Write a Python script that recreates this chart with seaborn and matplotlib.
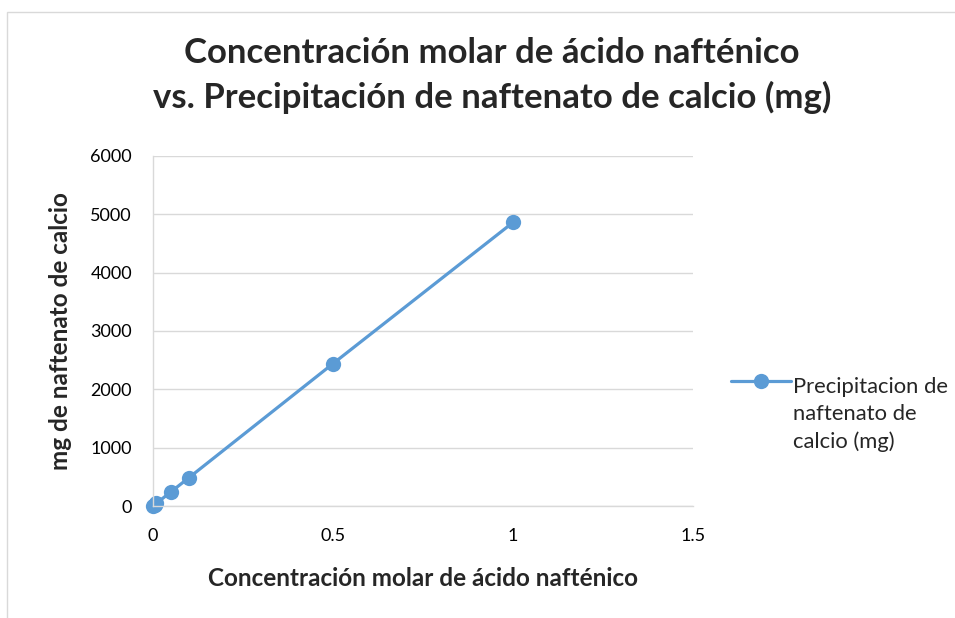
import numpy as np
import pandas as pd
import matplotlib.pyplot as plt
import seaborn as sns
from matplotlib.patches import Rectangle

# data
concentracion = [0.001, 0.005, 0.01, 0.05, 0.1, 0.5, 1.0]
precipitacion_mg = [4.9, 24.3, 48.6, 243, 486, 2440, 4860]
serie = "Precipitacion de\nnaftenato de\ncalcio (mg)"
x_ticks = [0, 0.5, 1, 1.5]
x_tick_labels = ["0", "0.5", "1", "1.5"]
y_ticks = [0, 1000, 2000, 3000, 4000, 5000, 6000]

df = pd.DataFrame({"x": concentracion, "y": precipitacion_mg, "serie": serie})

sns.set_style("white")
plt.rcParams["font.family"] = ["Lato", "DejaVu Sans"]

color = "#5B9BD5"
fig = plt.figure(figsize=(9.55, 6.18), dpi=100)
ax = fig.add_axes([0.160, 0.181, 0.566, 0.567])

sns.lineplot(data=df, x="x", y="y", hue="serie", palette=[color], marker="o",
             markersize=11, markeredgewidth=0, linewidth=2.3, ax=ax)
for ln in ax.lines:
    ln.set_clip_on(False)

ax.set_xlim(0, 1.5)
ax.set_ylim(0, 6000)
ax.set_xticks(x_ticks)
ax.set_xticklabels(x_tick_labels)
ax.set_yticks(y_ticks)
ax.tick_params(axis="both", labelsize=13, length=0, colors="black")
ax.tick_params(axis="y", pad=15)
ax.tick_params(axis="x", pad=16)
ax.yaxis.grid(True, color="#d9d9d9", linewidth=1)
for s in ["top", "right"]:
    ax.spines[s].set_visible(False)
for s in ["left", "bottom"]:
    ax.spines[s].set_color("#d9d9d9")
    ax.spines[s].set_linewidth(1)

ax.set_xlabel("Concentración molar de ácido nafténico", fontsize=17.5,
              fontweight="bold", labelpad=16)
ax.set_ylabel("mg de naftenato de calcio", fontsize=17.5, fontweight="bold",
              labelpad=13)

fig.suptitle("Concentración molar de ácido nafténico\nvs. Precipitación de naftenato de calcio (mg)",
             x=0.515, y=0.94, fontsize=25, fontweight="bold", linespacing=1.45)

# handle sits on the first line of the wrapped label, like the original
leg = ax.legend(loc="center left", bbox_to_anchor=(1.034, 0.357), frameon=False,
                fontsize=15.8, handlelength=2.7, handletextpad=0.1)
for t in leg.get_texts():
    t.set_linespacing(1.45)
    t.set_va("center")

fig.patches.append(Rectangle((7 / 955, -0.1), 1.2, 1.1 - 12 / 618,
                             transform=fig.transFigure, fill=False,
                             edgecolor="#d9d9d9", linewidth=1))

fig.savefig("out.png", dpi=100)
